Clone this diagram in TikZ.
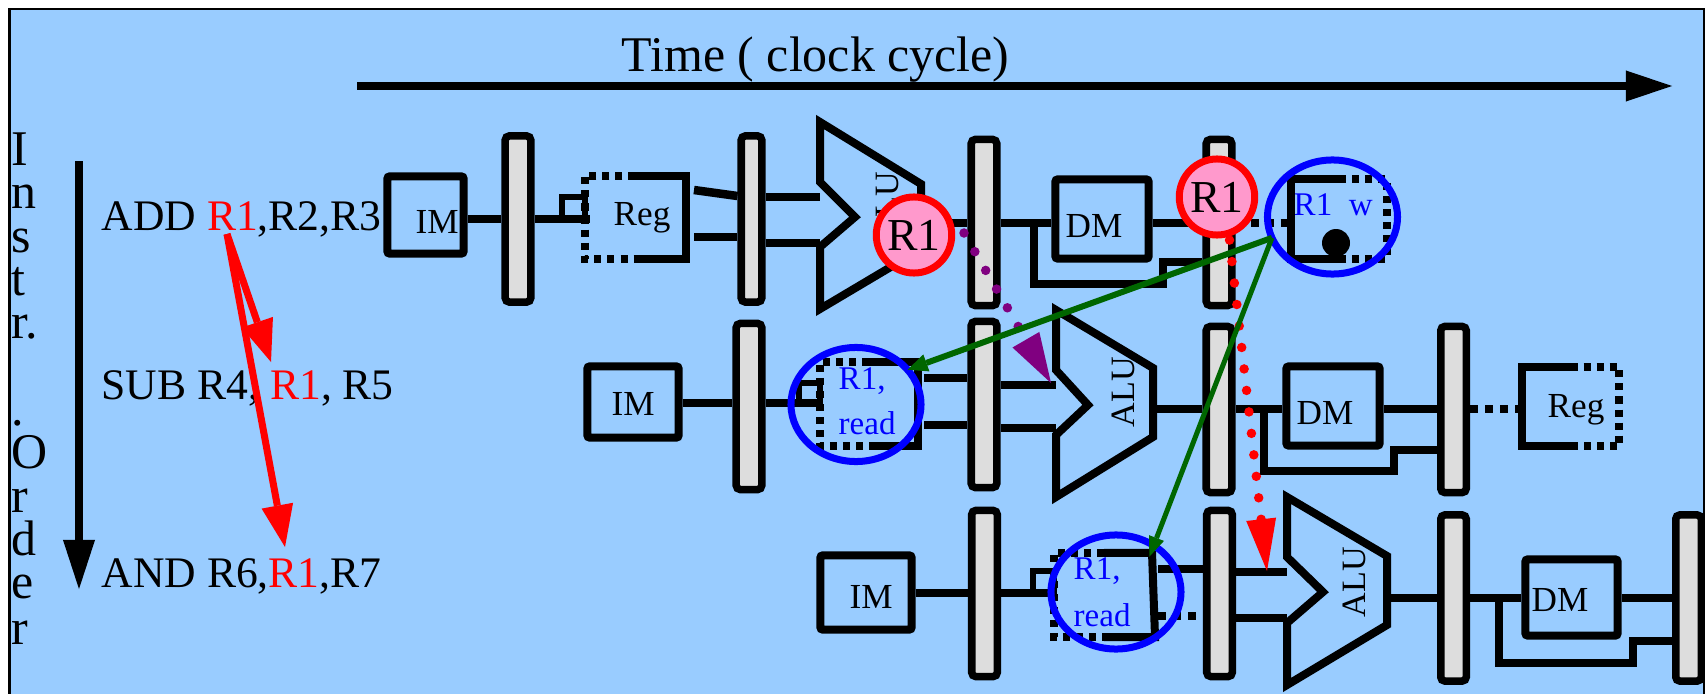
\documentclass[tikz,border=0pt]{standalone}
\usepackage{fontspec}
\setmainfont{Liberation Serif}
\usetikzlibrary{arrows.meta,shapes.geometric}
\definecolor{skyback}{HTML}{99CCFF}
\definecolor{pinkfill}{HTML}{FF99CC}
\definecolor{latchgray}{HTML}{DDDDDD}
\definecolor{darkgreen}{HTML}{006600}
\definecolor{hazpurple}{HTML}{800080}
\tikzset{
	wire/.style={line width=0.085cm},
	thinwire/.style={line width=0.06cm},
	halfdash/.style={line width=0.08cm, dash pattern=on 0.07cm off 0.06cm},
	solidhalf/.style={line width=0.08cm},
	latch/.style={draw, fill=latchgray, line width=0.075cm, rounded corners=0.04cm, inner sep=0, outer sep=auto, minimum width=0.255cm, minimum height=1.66cm},
	membox/.style={draw, line width=0.08cm, rounded corners=0.02cm, inner sep=0, outer sep=auto},
	regspot/.style={inner sep=0, outer sep=0},
	aluline/.style={line width=0.08cm},
	boxtext/.style={anchor=base west, inner sep=0, font=\fontsize{10}{12}\selectfont},
	alutext/.style={rotate=90, inner sep=0, font=\fontsize{9.7}{12}\selectfont},
	bluetext/.style={anchor=base west, inner sep=0, text=blue, font=\fontsize{9.4}{12}\selectfont},
	instr/.style={anchor=base west, inner sep=0, font=\fontsize{12.4}{14}\selectfont},
	bigtext/.style={anchor=base west, inner sep=0, font=\fontsize{14.2}{16}\selectfont},
	redring/.style={ellipse, draw=red, fill=pinkfill, line width=0.07cm, inner sep=0, outer sep=0, minimum width=0.72cm, minimum height=0.76cm, font=\fontsize{13}{14}\selectfont},
	bluering/.style={ellipse, draw=blue, line width=0.07cm, inner sep=0, outer sep=0, minimum width=1.30cm, minimum height=1.14cm},
	hazdots/.style={line width=0.095cm, line cap=round, dash pattern=on 0pt off 0.216cm},
}
\begin{document}
\begin{tikzpicture}[x=0.01cm,y=-0.01cm]
	\useasboundingbox (0,0) rectangle (1705,694);
	\fill[skyback] (9.5,694)--(9.5,9)--(1704,9)--(1704,694)--cycle;
	\draw[line width=0.025cm] (9.5,694)--(9.5,9)--(1704,9)--(1704,694);

	\node[bigtext] at (621,71)(timelabel){Time ( clock cycle)};
	\coordinate (timeS) at (357,86);
	\coordinate (timeE) at (1672,86);
	\draw[line width=0.08cm, -{Triangle[length=0.46cm,width=0.31cm,line width=0pt]}] (timeS) -- (timeE);

	\node[bigtext] at (11,165)(vI){I};
	\node[bigtext] at (11,208)(vn){n};
	\node[bigtext] at (11,252)(vs){s};
	\node[bigtext] at (11,295)(vt){t};
	\node[bigtext] at (11,338)(vr){r.};
	\node[bigtext] at (11,425)(vdot){.};
	\node[bigtext] at (11,468)(vO){O};
	\node[bigtext] at (11,512)(vrr){r};
	\node[bigtext] at (11,555)(vd){d};
	\node[bigtext] at (11,598)(ve){e};
	\node[bigtext] at (11,644)(vrrr){r};
	\coordinate (orderS) at (79,161);
	\coordinate (orderE) at (79,589);
	\draw[line width=0.075cm, -{Triangle[length=0.49cm,width=0.32cm,line width=0pt]}] (orderS) -- (orderE);

	\node[instr] at (101,230)(addlabel){ADD \textcolor{red}{R1},R2,R3};
	\node[instr] at (101,399)(sublabel){SUB R4, \textcolor{red}{R1}, R5};
	\node[instr] at (101,587)(andlabel){AND R6,\textcolor{red}{R1},R7};

	% first row
	\node[membox, minimum width=0.76cm, minimum height=0.77cm] at (425.5,215)(imA){};
	\node[latch] at (518,219)(barA){};
	\node[regspot, minimum width=1.01cm, minimum height=0.83cm] at (635.5,217.5)(regA){};
	\node[latch, minimum width=0.205cm] at (751.5,219)(barB){};
	\node[latch] at (984,222.5)(barC){};
	\node[membox, minimum width=0.93cm, minimum height=0.79cm] at (1102,219)(dmA){};
	\node[latch] at (1219,222.5)(barD){};
	\node[regspot, minimum width=0.96cm, minimum height=0.80cm] at (1339,219)(regB){};
	\node[boxtext] at (415,233)(imAt){IM};
	\node[boxtext] at (613,225)(regAt){Reg};
	\node[boxtext] at (1065,237)(dmAt){DM};
	\node[alutext] at (887,207)(aluAt){ALU};
	\node[bluetext] at (1293,215)(wlabel){R1\ \ w};
	\coordinate (aluA) at (820,122);

	\draw[wire] (imA.east |- 0,219) -- (barA.west |- 0,219);
	\draw[wire] (barA.east |- 0,219) -- (590,219);
	\draw[thinwire] (regA.west |- 0,219) -- (562,219) -- (562,197) -- (regA.west |- 0,197) -- cycle;
	\draw[solidhalf] (regA.north) -- (regA.north east) -- (regA.south east) -- (regA.south);
	\draw[halfdash] (regA.north) -- (regA.north west) -- (regA.south west) -- (regA.south);
	\draw[wire] (694,190) -- (barB.west |- 0,196);
	\draw[wire] (694,237) -- (barB.west |- 0,237);
	\draw[wire] (barB.east |- 0,197) -- (aluA |- 0,197);
	\draw[wire] (barB.east |- 0,243) -- (aluA |- 0,243);
	\draw[aluline] (aluA) -- (921,184) -- (921,249) -- (820,309) -- (820,247) -- (855,217) -- (820,182) -- cycle;
	\draw[wire] (921,223) -- (barC.west |- 0,223);
	\draw[wire] (barC.east |- 0,223) -- (dmA.west |- 0,223);
	\draw[wire] (dmA.east |- 0,223) -- (barD.west |- 0,223);
	\draw[wire] (1034,223) -- (1034,284) -- (1163,284) -- (1163,262) -- (barD.west |- 0,262);
	\draw[wire, dash pattern=on 0.08cm off 0.07cm] (barD.east |- 0,223) -- (regB.west |- 0,223);
	\draw[solidhalf] (regB.north) -- (regB.north west) -- (regB.south west) -- (regB.south);
	\draw[halfdash] (regB.north) -- (regB.north east) -- (regB.south east) -- (regB.south);
	\fill (1336,243) circle (14);

	% second row
	\node[membox, minimum width=0.91cm, minimum height=0.71cm] at (633,402)(imB){};
	\node[latch] at (749,406.5)(barE){};
	\node[regspot, minimum width=0.98cm, minimum height=0.84cm] at (869,404)(regC){};
	\node[latch] at (984,404.5)(barF){};
	\node[latch] at (1219,409.5)(barG){};
	\node[membox, minimum width=0.93cm, minimum height=0.79cm] at (1333,406)(dmB){};
	\node[latch] at (1453.5,409.5)(barH){};
	\node[regspot, minimum width=0.97cm, minimum height=0.79cm] at (1570.5,406.5)(regD){};
	\node[boxtext] at (611,415)(imBt){IM};
	\node[boxtext] at (1296,424)(dmBt){DM};
	\node[boxtext] at (1547,417)(regDt){Reg};
	\node[alutext] at (1123,392)(aluBt){ALU};
	\node[bluetext] at (838,389)(readBa){R1,};
	\node[bluetext] at (838,434)(readBb){read};
	\coordinate (aluB) at (1056,310);

	\draw[wire] (imB.east |- 0,403) -- (barE.west |- 0,403);
	\draw[wire] (barE.east |- 0,403) -- (regC.west |- 0,403);
	\draw[thinwire] (regC.west |- 0,403) -- (799,403) -- (799,383) -- (regC.west |- 0,383) -- cycle;
	\draw[solidhalf] (regC.north) -- (regC.north east) -- (regC.south east) -- (regC.south);
	\draw[halfdash] (regC.north) -- (regC.north west) -- (regC.south west) -- (regC.south);
	\draw[wire] (924,378) -- (barF.west |- 0,378);
	\draw[wire] (924,425) -- (barF.west |- 0,425);
	\draw[wire] (barF.east |- 0,385) -- (aluB |- 0,385);
	\draw[wire] (barF.east |- 0,428) -- (aluB |- 0,428);
	\draw[aluline] (aluB) -- (1153,368) -- (1153,437) -- (1056,497) -- (1056,435) -- (1088,405) -- (1056,370) -- cycle;
	\draw[wire] (1153,409) -- (barG.west |- 0,409);
	\draw[wire] (barG.east |- 0,409) -- (dmB.west |- 0,409);
	\draw[wire] (dmB.east |- 0,409) -- (barH.west |- 0,409);
	\draw[wire] (1264,409) -- (1264,471) -- (1394,471) -- (1394,450) -- (barH.west |- 0,450);
	\draw[wire, dash pattern=on 0.08cm off 0.07cm] (barH.east |- 0,409) -- (regD.west |- 0,409);
	\draw[solidhalf] (regD.north) -- (regD.north west) -- (regD.south west) -- (regD.south);
	\draw[halfdash] (regD.north) -- (regD.north east) -- (regD.south east) -- (regD.south);

	% third row
	\node[membox, minimum width=0.91cm, minimum height=0.74cm] at (866,592.5)(imC){};
	\node[latch] at (984.5,593.5)(barI){};
	\node[regspot, minimum width=1.00cm, minimum height=0.84cm] at (1104,595)(regE){};
	\node[latch] at (1219.5,593.5)(barJ){};
	\node[latch] at (1453.5,598)(barK){};
	\node[membox, minimum width=0.92cm, minimum height=0.76cm] at (1571.5,597.5)(dmC){};
	\node[latch] at (1688.5,598)(barL){};
	\node[boxtext] at (849,608)(imCt){IM};
	\node[boxtext] at (1531,611)(dmCt){DM};
	\node[alutext] at (1354,582)(aluCt){ALU};
	\node[bluetext] at (1073,579)(readCa){R1,};
	\node[bluetext] at (1073,626)(readCb){read};
	\coordinate (aluC) at (1287,497);

	\draw[wire] (imC.east |- 0,593) -- (barI.west |- 0,593);
	\draw[wire] (barI.east |- 0,593) -- (regE.west |- 0,593);
	\draw[thinwire] (regE.west |- 0,593) -- (1033,593) -- (1033,571) -- (regE.west |- 0,571) -- cycle;
	\draw[solidhalf] (regE.north) -- ([xshift=-0.02cm]regE.north east) -- ([xshift=0.01cm]regE.south east) -- (regE.south);
	\draw[halfdash] (regE.north) -- (regE.north west) -- (regE.south west) -- (regE.south);
	\draw[wire] (1158,569) -- (barJ.west |- 0,569);
	\draw[wire, dash pattern=on 0.08cm off 0.07cm] (1158,616) -- (barJ.west |- 0,616);
	\draw[wire] (barJ.east |- 0,572) -- (aluC |- 0,572);
	\draw[wire] (barJ.east |- 0,618) -- (aluC |- 0,618);
	\draw[aluline] (aluC) -- (1387,556) -- (1387,625) -- (1287,685) -- (1287,623) -- (1323,592) -- (1287,557) -- cycle;
	\draw[wire] (1387,598) -- (barK.west |- 0,598);
	\draw[wire] (barK.east |- 0,598) -- (dmC.west |- 0,598);
	\draw[wire] (dmC.east |- 0,598) -- (barL.west |- 0,598);
	\draw[wire] (1499,598) -- (1499,663) -- (1633,663) -- (1633,641) -- (barL.west |- 0,641);

	% hazards
	\node[redring] at (914,235)(hotA){R1};
	\node[redring] at (1217,197)(hotB){R1};
	\node[bluering] at (1332.5,217)(ringW){};
	\node[bluering] at (856,404.5)(ringB){};
	\node[bluering] at (1116,592)(ringC){};
	\coordinate (hazA) at (964,233);
	\coordinate (hazB) at (1051,383);
	\coordinate (hazC) at (1267,571);
	\draw[hazdots, hazpurple, -{Triangle[length=0.5cm,width=0.31cm,line width=0pt]}] (hazA) -- (hazB);
	\draw[hazdots, red, shorten <=0.07cm, -{Triangle[length=0.52cm,width=0.3cm,line width=0pt]}] (hotB.-72) -- (hazC);
	\coordinate (srcR) at (227,234);
	\coordinate (tipSub) at (271,362);
	\coordinate (tipAnd) at (285,547);
	\draw[line width=0.07cm, red, -{Triangle[length=0.42cm,width=0.33cm,line width=0pt]}] (srcR) -- (tipSub);
	\draw[line width=0.07cm, red, -{Triangle[length=0.42cm,width=0.32cm,line width=0pt]}] (srcR) -- (tipAnd);
	\draw[line width=0.06cm, darkgreen, -{Triangle[length=0.2cm,width=0.18cm,line width=0pt]}] (ringW.199) -- (ringB.34);
	\draw[line width=0.05cm, darkgreen, shorten >=-0.12cm, -{Triangle[length=0.2cm,width=0.16cm,line width=0pt]}] (ringW.199) -- (ringC.51);
\end{tikzpicture}
\end{document}
